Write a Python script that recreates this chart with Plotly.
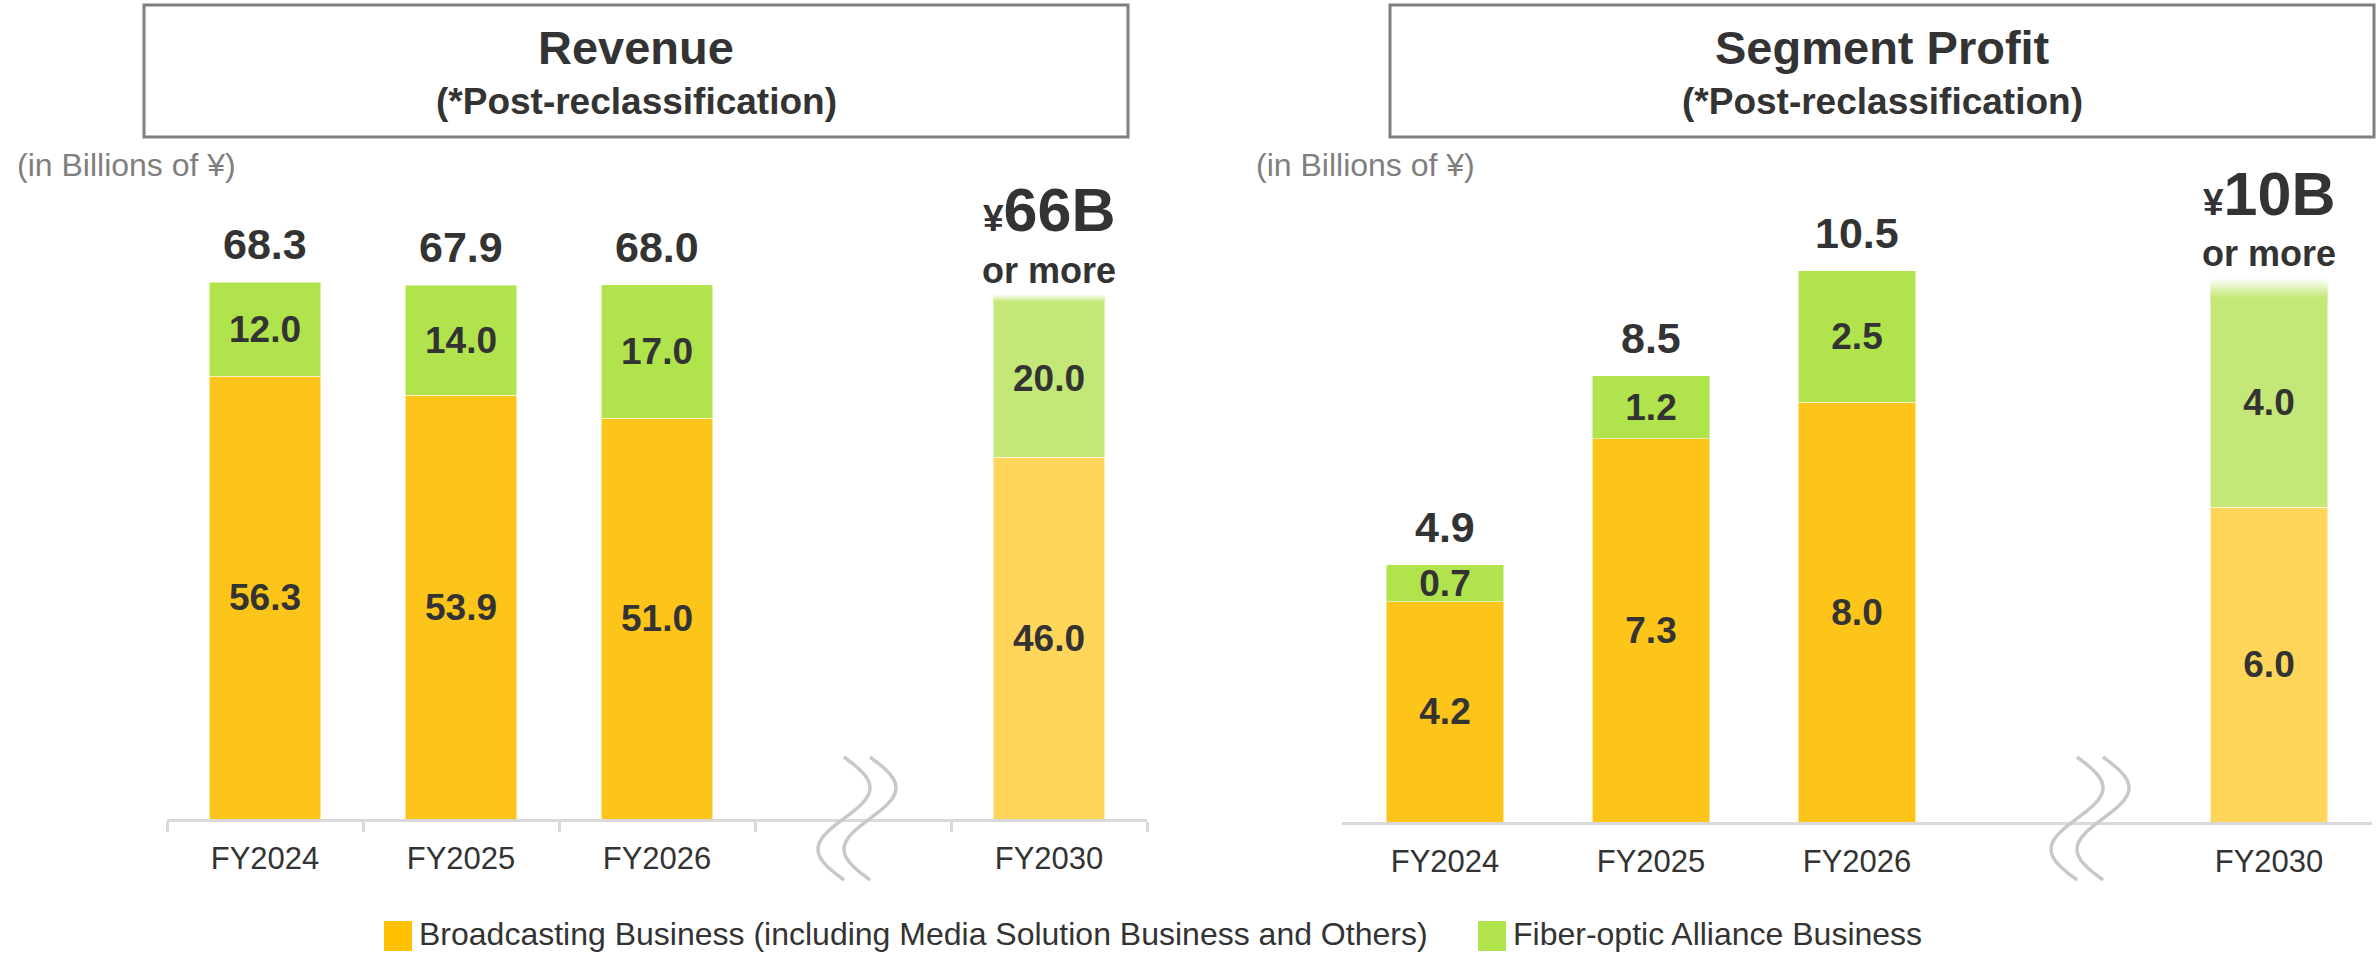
import math
import plotly.graph_objects as go

# ---------------- data ----------------
axis_slots = ["FY2024", "FY2025", "FY2026", "", "FY2030"]   # "" = axis break
categories = ["FY2024", "FY2025", "FY2026", "FY2030"]

rev_broadcast = [56.3, 53.9, 51.0, 46.0]
rev_fiber = [12.0, 14.0, 17.0, 20.0]
rev_total = [68.3, 67.9, 68.0, 66.0]

prof_broadcast = [4.2, 7.3, 8.0, 6.0]
prof_fiber = [0.7, 1.2, 2.5, 4.0]
prof_total = [4.9, 8.5, 10.5, 10.0]

target_labels = ["¥66B", "¥10B"]
series_names = ["Broadcasting Business (including Media Solution Business and Others)",
                "Fiber-optic Alliance Business"]
panel_titles = ["Revenue", "Segment Profit"]
subtitle = "(*Post-reclassification)"
unit_label = "(in Billions of ¥)"

# ---------------- style ----------------
W, H = 2380, 954
FONT = "Liberation Sans, Arial, sans-serif"
DARK = "#333333"
ORANGE, ORANGE_L = "#FDC51A", "#FFD65A"
GREEN, GREEN_L = "#B1E34C", "#C3E877"
AXIS_C = "#D9D9D9"
BAR_W = 0.57


def px_x(px):
    return px / W


def px_y(py):
    return 1 - py / H


# panel geometry (pixels)
panels = [
    dict(xa="x", ya="y", x0=167, x1=1147, base=819, top=40, ppu=7.86,
         box=(144, 1128), unit_x=15, ticks=True, brk=857,
         fade_below=2, fade_above=6,
         b=rev_broadcast, f=rev_fiber, t=rev_total, target=target_labels[0]),
    dict(xa="x2", ya="y2", x0=1342, x1=2372, base=822, top=40, ppu=52.5,
         box=(1390, 2374), unit_x=1254, ticks=False, brk=2090,
         fade_below=1, fade_above=19,
         b=prof_broadcast, f=prof_fiber, t=prof_total, target=target_labels[1]),
]

fig = go.Figure()
shapes = []
annotations = []
layout_axes = {}

for i, p in enumerate(panels):
    xs = [axis_slots.index(c) for c in categories]
    last = len(categories) - 1
    bcol = [ORANGE] * last + [ORANGE_L]
    fcol = [GREEN] * last + [GREEN_L]
    common = dict(x=xs, width=BAR_W, xaxis=p["xa"], yaxis=p["ya"], showlegend=False,
                  textposition="inside", insidetextanchor="middle", textangle=0,
                  constraintext="none", hoverinfo="skip",
                  textfont=dict(family=FONT, size=37, color=DARK, weight="bold"))
    fig.add_trace(go.Bar(y=p["b"], text=[f"{v:.1f}" for v in p["b"]],
                         marker=dict(color=bcol, line=dict(width=1, color="rgba(255,255,255,0.5)")),
                         name=series_names[0], **common))
    fig.add_trace(go.Bar(y=p["f"], text=[f"{v:.1f}" for v in p["f"]],
                         marker=dict(color=fcol, line=dict(width=1, color="rgba(255,255,255,0.5)")),
                         name=series_names[1], **common))

    # soft fade at the top of the target bar
    xt = xs[last]
    tt = p["t"][last]
    lo = tt - p["fade_below"] / p["ppu"]
    hi = tt + p["fade_above"] / p["ppu"]
    fig.add_trace(go.Scatter(
        x=[xt - BAR_W / 2, xt + BAR_W / 2, xt + BAR_W / 2, xt - BAR_W / 2, xt - BAR_W / 2],
        y=[lo, lo, hi, hi, lo], mode="lines", line=dict(width=0), fill="toself",
        fillgradient=dict(type="vertical", start=lo, stop=hi,
                          colorscale=[[0, GREEN_L], [1, "rgba(255,255,255,1)"]]),
        xaxis=p["xa"], yaxis=p["ya"], showlegend=False, hoverinfo="skip"))

    # total labels
    for k in range(last):
        annotations.append(dict(x=xs[k], y=p["t"][k], xref=p["xa"], yref=p["ya"],
                                text=f"{p['t'][k]:.1f}", showarrow=False,
                                xanchor="center", yanchor="bottom", yshift=12,
                                font=dict(family=FONT, size=43, color=DARK, weight="bold")))
    # target label
    cur, num = p["target"][0], p["target"][1:]
    annotations.append(dict(x=xt, y=tt, xref=p["xa"], yref=p["ya"],
                            text="or more", showarrow=False, xanchor="center", yanchor="middle",
                            yshift=p["fade_above"] + 24,
                            font=dict(family=FONT, size=36, color=DARK, weight="bold")))
    annotations.append(dict(x=xt, y=tt, xref=p["xa"], yref=p["ya"],
                            text=f"<span style='font-size:37px'>{cur}</span>{num}",
                            showarrow=False, xanchor="center", yanchor="middle",
                            yshift=p["fade_above"] + 84,
                            font=dict(family=FONT, size=61, color=DARK, weight="bold")))

    # axes
    suffix = "" if i == 0 else "2"
    n = len(axis_slots)
    xaxis = dict(domain=[px_x(p["x0"]), px_x(p["x1"])], range=[-0.5, n - 0.5],
                 anchor=p["ya"], showgrid=False, zeroline=False,
                 showline=True, linecolor=AXIS_C, linewidth=2.5,
                 tickmode="array", tickvals=xs, ticktext=categories, ticks="",
                 ticklabelstandoff=10,
                 tickfont=dict(family=FONT, size=31, color=DARK), fixedrange=True)
    if p["ticks"]:
        xaxis["minor"] = dict(tickmode="array", tickvals=[k - 0.5 for k in range(n + 1)],
                              ticks="outside", ticklen=10, tickwidth=2.5, tickcolor=AXIS_C,
                              showgrid=False)
    span_px = p["base"] - p["top"]
    yaxis = dict(domain=[px_y(p["base"]), px_y(p["top"])], range=[0, span_px / p["ppu"]],
                 anchor=p["xa"], visible=False, showgrid=False, fixedrange=True)
    layout_axes["xaxis" + suffix] = xaxis
    layout_axes["yaxis" + suffix] = yaxis

    # title box
    bx0, bx1 = p["box"]
    shapes.append(dict(type="rect", xref="paper", yref="paper",
                       x0=px_x(bx0), x1=px_x(bx1), y0=px_y(137), y1=px_y(5),
                       line=dict(color="#7F7F7F", width=3), fillcolor="rgba(0,0,0,0)"))
    cx = px_x((bx0 + bx1) / 2)
    annotations.append(dict(x=cx, y=px_y(48), xref="paper", yref="paper",
                            text=panel_titles[i], showarrow=False,
                            xanchor="center", yanchor="middle",
                            font=dict(family=FONT, size=47, color=DARK, weight="bold")))
    annotations.append(dict(x=cx, y=px_y(101), xref="paper", yref="paper",
                            text=subtitle, showarrow=False,
                            xanchor="center", yanchor="middle",
                            font=dict(family=FONT, size=37, color=DARK, weight="bold")))
    annotations.append(dict(x=px_x(p["unit_x"]), y=px_y(165), xref="paper", yref="paper",
                            text=unit_label, showarrow=False, xanchor="left", yanchor="middle",
                            font=dict(family=FONT, size=32, color="#7F7F7F")))

    # axis break (two wavy lines)
    for off in (-13, 13):
        c = p["brk"] + off
        pts = []
        steps = 48
        for s in range(steps + 1):
            t = s / steps
            X = c + 26 * math.sin(2 * math.pi * t)
            Y = 757 + 123 * t
            pts.append(f"{px_x(X):.5f},{px_y(Y):.5f}")
        shapes.append(dict(type="path", xref="paper", yref="paper",
                           path="M " + " L ".join(pts),
                           line=dict(color="#C8C8C8", width=3.5)))

# manual legend
legend_items = [(series_names[0], "#FFC000", 384), (series_names[1], GREEN, 1478)]
for name, col, sx in legend_items:
    shapes.append(dict(type="rect", xref="paper", yref="paper",
                       x0=px_x(sx), x1=px_x(sx + 28), y0=px_y(951), y1=px_y(921),
                       fillcolor=col, line=dict(width=0)))
    annotations.append(dict(x=px_x(sx + 33), y=px_y(934), xref="paper", yref="paper",
                            text=name, showarrow=False, xanchor="left", yanchor="middle",
                            font=dict(family=FONT, size=32, color=DARK)))

fig.update_layout(width=W, height=H, margin=dict(l=0, r=0, t=0, b=0),
                  paper_bgcolor="white", plot_bgcolor="white", barmode="stack",
                  showlegend=False, shapes=shapes, annotations=annotations, **layout_axes)

fig.write_html("out.html", config={"displayModeBar": False},
               post_script="document.body.style.margin='0';document.body.style.overflow='hidden';")
